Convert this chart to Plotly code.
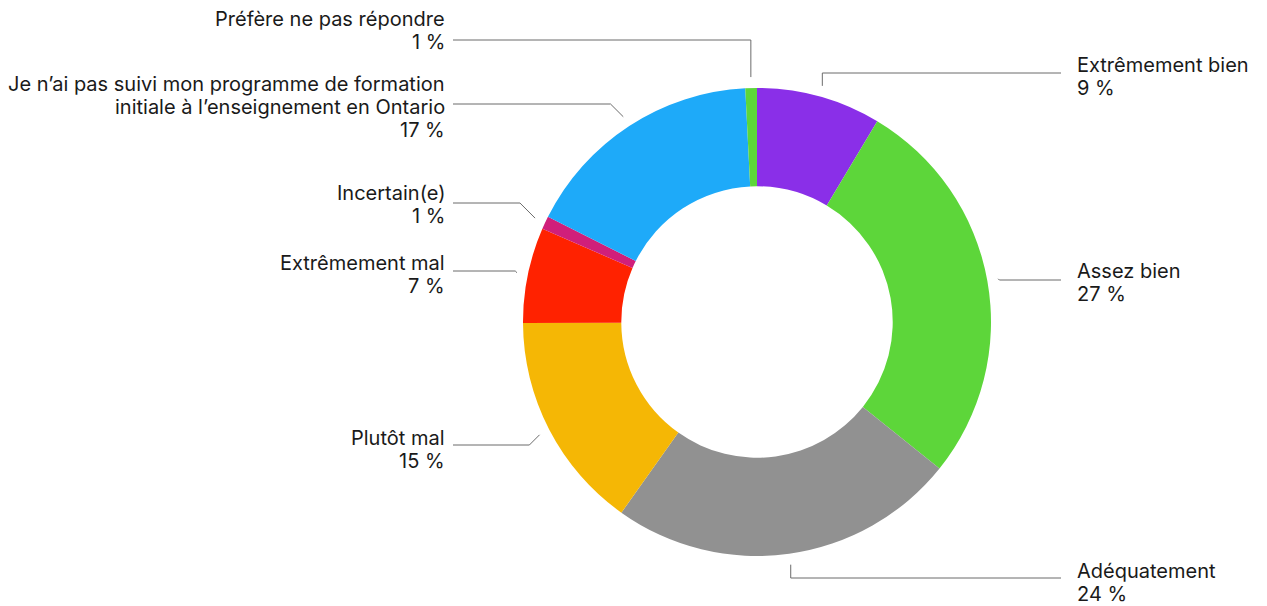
import math
import plotly.graph_objects as go

# ---- data ----
categories = [
    "Extrêmement bien",
    "Assez bien",
    "Adéquatement",
    "Plutôt mal",
    "Extrêmement mal",
    "Incertain(e)",
    "Je n’ai pas suivi mon programme de formation|initiale à l’enseignement en Ontario",
    "Préfère ne pas répondre",
]
values = [8.6, 27.2, 24.1, 15.1, 6.6, 0.9, 16.8, 0.8]
colors = ["#8a2fe8", "#5dd63a", "#919191", "#f5b705", "#ff2200", "#d01f7a", "#1eaaf9", "#5dd63a"]

# ---- layout constants (pixels in the 1267x606 window) ----
OFF = 8  # page body margin
W, H = 1267 - OFF, 606 - OFF
CX, CY, R = 757, 322, 234
HOLE = 0.58
ANCHOR_R = 245
label_line_y = [73, 280, 578, 445, 271, 203, 104, 40]
first_text_y = [65, 271, 571, 438, 263, 193, 84, 19]
LINE_STEP = 23
side = ["r", "r", "r", "l", "l", "l", "l", "l"]
LEFT_LINE_END, RIGHT_LINE_END = 453, 1061
LEFT_TEXT_X, RIGHT_TEXT_X = 447, 1075

FONT = "Inter, Roboto, sans-serif"


def px(x):
    return (x - OFF) / W


def py(y):
    return 1 - (y - OFF) / H


fig = go.Figure(go.Pie(
    labels=[c.replace("|", " ") for c in categories],
    values=values,
    marker=dict(colors=colors, line=dict(width=0)),
    hole=HOLE,
    sort=False,
    direction="clockwise",
    rotation=0,
    textinfo="none",
    hoverinfo="label+percent",
    showlegend=False,
    domain=dict(x=[px(CX - R), px(CX + R)], y=[py(CY + R), py(CY - R)]),
))

total = sum(values)
shapes = []
annotations = []
cum = 0.0
for i, v in enumerate(values):
    mid = (cum + v / 2) / total * 2 * math.pi
    cum += v
    ax = CX + math.sin(mid) * ANCHOR_R
    ay = CY - math.cos(mid) * ANCHOR_R
    ly = label_line_y[i]
    s = math.sin(mid)
    if abs(s) < 0.5:
        ex = ax
    else:
        dy = abs(ly - ay)
        ex = ax + (dy if s > 0 else -dy)
    end_x = RIGHT_LINE_END if side[i] == "r" else LEFT_LINE_END
    path = f"M {px(ax)} {py(ay)} L {px(ex)} {py(ly)} L {px(end_x)} {py(ly)}"
    shapes.append(dict(type="path", path=path, xref="paper", yref="paper",
                       line=dict(color="#6b6b6b", width=1)))
    pct = round(v / total * 100)
    lines = categories[i].split("|") + [f"{pct} %"]
    for k, t in enumerate(lines):
        yy = first_text_y[i] + k * LINE_STEP
        if side[i] == "r":
            annotations.append(dict(x=px(RIGHT_TEXT_X), y=py(yy), xref="paper", yref="paper",
                                    text=t, showarrow=False, xanchor="left", yanchor="middle",
                                    align="left"))
        else:
            annotations.append(dict(x=px(LEFT_TEXT_X), y=py(yy), xref="paper", yref="paper",
                                    text=t, showarrow=False, xanchor="right", yanchor="middle",
                                    align="right"))

fig.update_layout(
    width=W, height=H,
    margin=dict(l=0, r=0, t=0, b=0),
    paper_bgcolor="white",
    plot_bgcolor="white",
    font=dict(family=FONT, size=20, color="#1a1a1a"),
    shapes=shapes,
    annotations=annotations,
)

fig.write_html("out.html")
